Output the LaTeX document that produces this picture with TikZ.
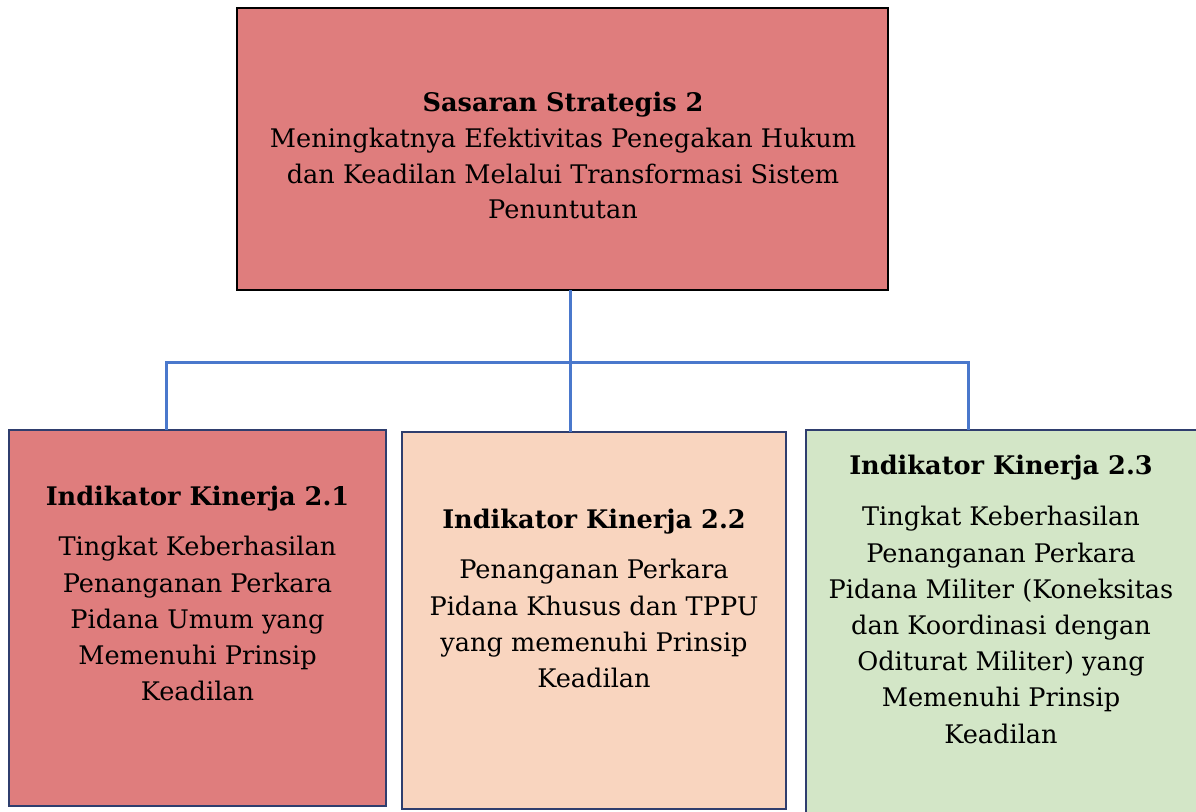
\documentclass[tikz,border=0pt]{standalone}
\usepackage{fontspec}
\setmainfont{DejaVu Serif}
\definecolor{redbox}{HTML}{DF7D7D}
\definecolor{peachbox}{HTML}{F9D5BF}
\definecolor{greenbox}{HTML}{D3E6C7}
\definecolor{conncol}{HTML}{4A78CC}
\definecolor{navy}{HTML}{2F3E6E}
\tikzset{
  px/.style={x=0.5pt,y=-0.5pt},
  boxshape/.style={draw=navy,line width=0.8pt,inner sep=0pt,outer sep=0pt},
  topshape/.style={draw=black,line width=1.1pt,inner sep=0pt,outer sep=0pt,fill=redbox},
  conn/.style={draw=conncol,line width=1.5pt},
  txt/.style={align=center,inner sep=0pt,font=\fontsize{12.8}{17.85}\selectfont},
  btxt/.style={align=center,inner sep=0pt,font=\fontsize{12.8}{18.1}\selectfont},
}
\begin{document}
\begin{tikzpicture}[px]
\useasboundingbox (0,0) rectangle (1196,811);
% boxes
\path[topshape] (237,8) rectangle (888,290);
\path[boxshape,fill=redbox] (9,430) rectangle (386,806);
\path[boxshape,fill=peachbox] (402,432) rectangle (786,809);
\path[boxshape,fill=greenbox] (806,430) rectangle (1210,830);
% anchor nodes for the boxes
\node[inner sep=0pt,minimum width=325.5pt,minimum height=141pt] (top) at (562.5,149) {};
\node[inner sep=0pt,minimum width=188.5pt,minimum height=188pt] (b1) at (197.5,618) {};
\node[inner sep=0pt,minimum width=192pt,minimum height=188.5pt] (b2) at (594,620.5) {};
\node[inner sep=0pt,minimum width=202pt,minimum height=200pt] (b3) at (1008,630) {};
% texts
\node[txt,anchor=north] (toptxt) at (563,92) {\textbf{Sasaran Strategis 2}\\Meningkatnya Efektivitas Penegakan Hukum\\dan Keadilan Melalui Transformasi Sistem\\Penuntutan};
\node[btxt,anchor=north] (h1) at (197.5,486) {\textbf{Indikator Kinerja 2.1}};
\node[btxt,anchor=north] (t1) at (197.5,536) {Tingkat Keberhasilan\\Penanganan Perkara\\Pidana Umum yang\\Memenuhi Prinsip\\Keadilan};
\node[btxt,anchor=north] (h2) at (594,509) {\textbf{Indikator Kinerja 2.2}};
\node[btxt,anchor=north] (t2) at (594,559) {Penanganan Perkara\\Pidana Khusus dan TPPU\\yang memenuhi Prinsip\\Keadilan};
\node[btxt,anchor=north] (h3) at (1001,455) {\textbf{Indikator Kinerja 2.3}};
\node[btxt,anchor=north] (t3) at (1001,506) {Tingkat Keberhasilan\\Penanganan Perkara\\Pidana Militer (Koneksitas\\dan Koordinasi dengan\\Oditurat Militer) yang\\Memenuhi Prinsip\\Keadilan};
% connectors
\coordinate (bus) at (570,362);
\coordinate (L) at (166,362);
\coordinate (R) at (968,362);
\draw[conn] (bus |- top.south) -- (bus |- b2.north);
\draw[conn] (L |- b1.north) -- (L) -- (R) -- (R |- b3.north);
\end{tikzpicture}
\end{document}
